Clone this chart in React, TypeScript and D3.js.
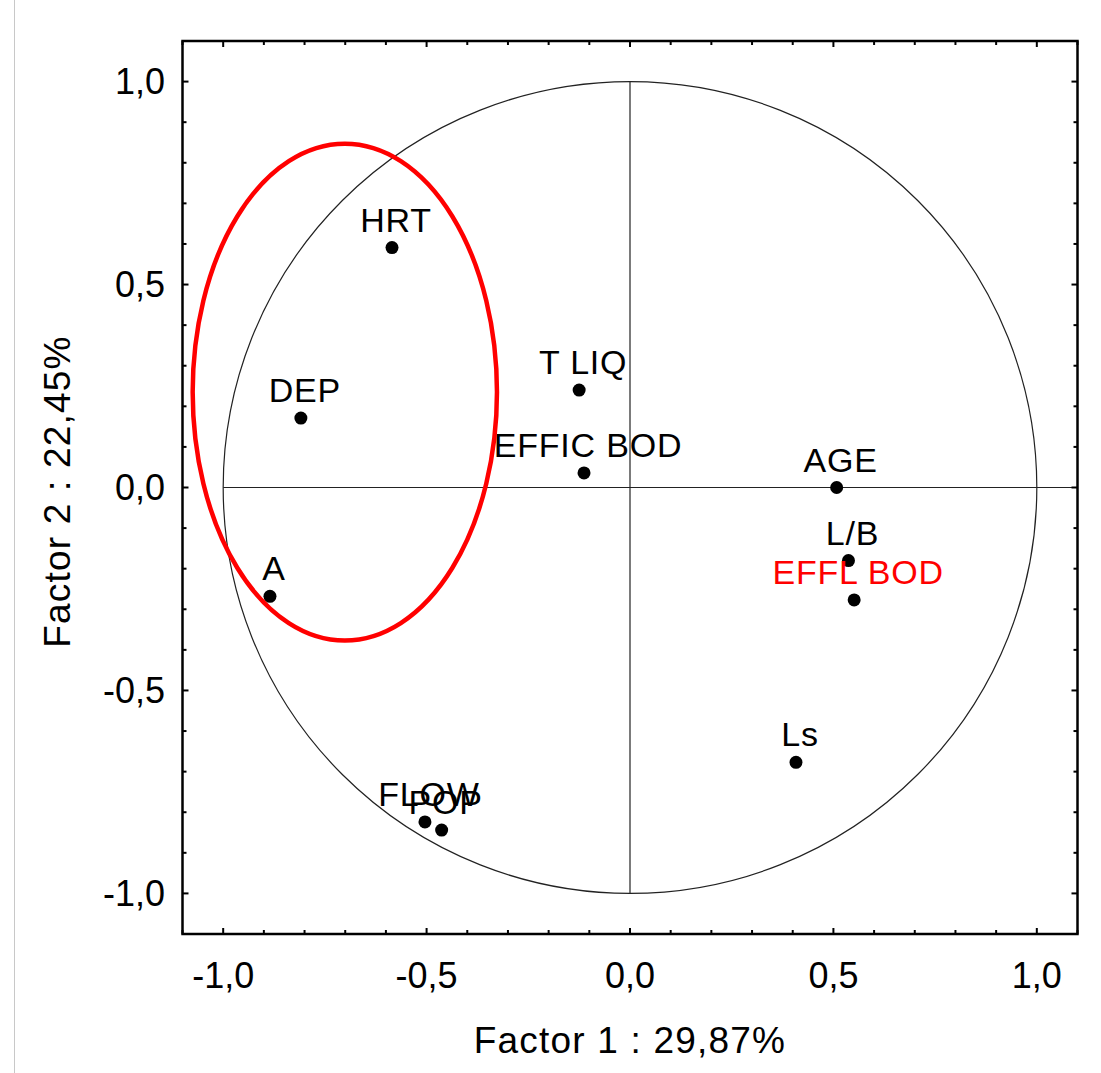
import React, { useEffect, useRef } from 'react'
import * as d3 from 'd3'

// variable names and factor coordinates (Factor 1, Factor 2)
const names = ['HRT', 'T LIQ', 'DEP', 'EFFIC BOD', 'AGE', 'L/B', 'EFFL BOD', 'A', 'Ls', 'FLOW', 'POP']
const factor1 = [-0.585, -0.125, -0.809, -0.113, 0.508, 0.537, 0.551, -0.885, 0.408, -0.504, -0.463]
const factor2 = [0.591, 0.240, 0.171, 0.036, 0.0, -0.180, -0.277, -0.268, -0.677, -0.824, -0.844]
const labelColors = ['#000', '#000', '#000', '#000', '#000', '#000', '#ff0000', '#000', '#000', '#000', '#000']

const majorTicks = [-1.0, -0.5, 0.0, 0.5, 1.0]
const minorTicks = d3.range(-11, 12).map(i => i / 10)
const tickLabels = ['-1,0', '-0,5', '0,0', '0,5', '1,0']

// highlight ellipse: center and radii in factor units
const ellipseCenter = [-0.701, 0.235]
const ellipseRadii = [0.374, 0.612]

const xTitle = 'Factor 1 : 29,87%'
const yTitle = 'Factor 2 : 22,45%'

export default function App() {
  const ref = useRef<SVGSVGElement>(null)

  useEffect(() => {
    const svg = d3.select(ref.current)
    svg.selectAll('*').remove()

    const width = 1101
    const height = 1073
    const margin = { top: 41, right: 23.5, bottom: 139, left: 182.5 }

    const x = d3.scaleLinear([-1.1, 1.1], [margin.left, width - margin.right])
    const y = d3.scaleLinear([-1.1, 1.1], [height - margin.bottom, margin.top])

    const font = '"Liberation Sans", Arial, sans-serif'

    // faint border line on the left of the picture
    svg.append('line')
      .attr('x1', 14.5).attr('x2', 14.5)
      .attr('y1', 0).attr('y2', height)
      .attr('stroke', '#c8c8c8').attr('stroke-width', 1)

    // unit circle
    svg.append('ellipse')
      .attr('cx', x(0)).attr('cy', y(0))
      .attr('rx', x(1) - x(0)).attr('ry', y(0) - y(1))
      .attr('fill', 'none').attr('stroke', '#222').attr('stroke-width', 1.2)

    // axes through the origin
    svg.append('line')
      .attr('x1', x(-1)).attr('x2', x(1.1))
      .attr('y1', y(0)).attr('y2', y(0))
      .attr('stroke', '#222').attr('stroke-width', 1.2)
    svg.append('line')
      .attr('x1', x(0)).attr('x2', x(0))
      .attr('y1', y(1)).attr('y2', y(-1))
      .attr('stroke', '#222').attr('stroke-width', 1.2)

    // frame
    svg.append('rect')
      .attr('x', x(-1.1)).attr('y', y(1.1))
      .attr('width', x(1.1) - x(-1.1)).attr('height', y(-1.1) - y(1.1))
      .attr('fill', 'none').attr('stroke', '#000').attr('stroke-width', 2.5)

    // inward ticks on all four sides
    const ticks = svg.append('g').attr('stroke', '#000').attr('stroke-width', 2)
    minorTicks.forEach(t => {
      const major = majorTicks.some(m => Math.abs(m - t) < 1e-6)
      const len = major ? 6 : 4
      ticks.append('line').attr('x1', x(t)).attr('x2', x(t)).attr('y1', y(-1.1)).attr('y2', y(-1.1) - len)
      ticks.append('line').attr('x1', x(t)).attr('x2', x(t)).attr('y1', y(1.1)).attr('y2', y(1.1) + len)
      ticks.append('line').attr('y1', y(t)).attr('y2', y(t)).attr('x1', x(-1.1)).attr('x2', x(-1.1) + len)
      ticks.append('line').attr('y1', y(t)).attr('y2', y(t)).attr('x1', x(1.1)).attr('x2', x(1.1) - len)
    })

    // tick labels
    svg.append('g')
      .selectAll('text')
      .data(majorTicks).enter()
      .append('text')
      .attr('x', d => x(d))
      .attr('y', 988)
      .attr('text-anchor', 'middle')
      .style('font', `36px ${font}`)
      .text((d, i) => tickLabels[i])

    svg.append('g')
      .selectAll('text')
      .data(majorTicks).enter()
      .append('text')
      .attr('x', 165)
      .attr('y', d => y(d) + 12.5)
      .attr('text-anchor', 'end')
      .style('font', `36px ${font}`)
      .text((d, i) => tickLabels[i])

    // axis titles
    svg.append('text')
      .attr('x', x(0))
      .attr('y', 1053)
      .attr('text-anchor', 'middle')
      .style('font', `37px ${font}`)
      .style('letter-spacing', '1.2px')
      .text(xTitle)

    svg.append('text')
      .attr('transform', `translate(70,${y(-0.01)}) rotate(-90)`)
      .attr('text-anchor', 'middle')
      .style('font', `37px ${font}`)
      .style('letter-spacing', '1.2px')
      .text(yTitle)

    // points
    const data = names.map((name, i) => ({ name, f1: factor1[i], f2: factor2[i], color: labelColors[i] }))

    svg.append('g')
      .selectAll('circle')
      .data(data).enter()
      .append('circle')
      .attr('cx', d => x(d.f1))
      .attr('cy', d => y(d.f2))
      .attr('r', 6.5)
      .attr('fill', '#000')

    svg.append('g')
      .selectAll('text')
      .data(data).enter()
      .append('text')
      .attr('x', d => x(d.f1) + 4)
      .attr('y', d => y(d.f2) - 16)
      .attr('text-anchor', 'middle')
      .attr('fill', d => d.color)
      .style('font', `34px ${font}`)
      .style('letter-spacing', '0.8px')
      .text(d => d.name)

    // red highlight ellipse
    svg.append('ellipse')
      .attr('cx', x(ellipseCenter[0])).attr('cy', y(ellipseCenter[1]))
      .attr('rx', x(ellipseRadii[0]) - x(0)).attr('ry', y(0) - y(ellipseRadii[1]))
      .attr('fill', 'none').attr('stroke', '#ff0000').attr('stroke-width', 4.5)
  }, [])

  return (
    <svg ref={ref} width={1101} height={1073}
      style={{ position: 'absolute', left: 0, top: 0, background: '#fff' }} />
  )
}
